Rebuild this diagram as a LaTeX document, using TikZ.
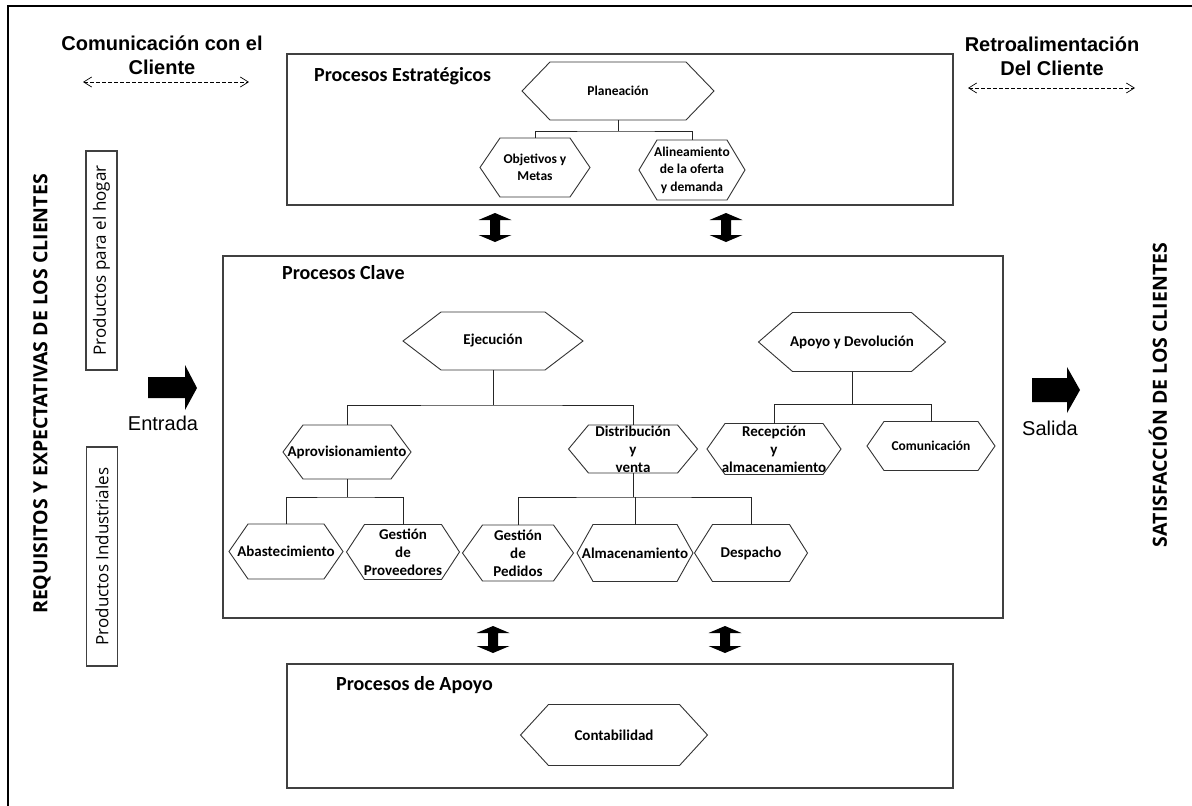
\documentclass[tikz,border=0pt]{standalone}
\usepackage{fontspec}
\usetikzlibrary{arrows.meta,calc}
\newfontfamily\calfont{Carlito}
\newfontfamily\arialfont{Liberation Sans}
\newfontfamily\opensans{Open Sans}

% hexagon drawn around a (borderless) rectangular node; #2 = horizontal inset of the corners
\newcommand\hexframe[2]{%
  \draw[hexline] (#1.west) -- ([xshift=#2pt]#1.north west) -- ([xshift=-#2pt]#1.north east)
    -- (#1.east) -- ([xshift=-#2pt]#1.south east) -- ([xshift=#2pt]#1.south west) -- cycle;}

% vertical block arrow with a head at each end
\newcommand\dblarrow[3]{%
  \begin{scope}[shift={(#1,0)}]
    \fill[black] (0,#2) -- (16.5,#2+7) -- (5,#2+7) -- (5,#3-7) -- (16.5,#3-7) -- (0,#3)
      -- (-16.5,#3-7) -- (-5,#3-7) -- (-5,#2+7) -- (-16.5,#2+7) -- cycle;
  \end{scope}}

\begin{document}
\begin{tikzpicture}[x=1pt,y=-1pt,
  boxline/.style={draw=black!75, line width=1.1pt, inner sep=0pt, outer sep=0pt},
  hexline/.style={draw=black!80, line width=0.9pt},
  conn/.style={draw=black!85, line width=0.9pt},
  hexnode/.style={inner sep=0pt, outer sep=0pt, align=center,
    font=\calfont\bfseries\fontsize{15}{18}\selectfont},
  smallhex/.style={hexnode, font=\calfont\bfseries\fontsize{13.5}{17.5}\selectfont},
  title/.style={anchor=west, inner sep=0pt, font=\calfont\bfseries\fontsize{20}{24}\selectfont},
  header/.style={align=center, inner sep=0pt, font=\arialfont\bfseries\fontsize{20}{24}\selectfont},
  flowlabel/.style={inner sep=0pt, font=\arialfont\fontsize{20}{24}\selectfont},
  sidetitle/.style={rotate=90, inner sep=0pt, font=\opensans\bfseries\fontsize{19.5}{22}\selectfont},
  prodbox/.style={boxline, rotate=90, minimum width=219pt, minimum height=31pt,
    font=\opensans\fontsize{17}{20}\selectfont},
  dasharr/.style={{Straight Barb[length=8pt,width=10pt]}-{Straight Barb[length=8pt,width=10pt]},
    dash pattern=on 4pt off 2pt, line width=0.7pt},
]
\useasboundingbox (0,0) rectangle (1192,806);
\fill[white] (0,0) rectangle (1192,806);

% outer frame
\draw[line width=2.2pt] (8,806) -- (8,6) -- (1192,6);

% customer communication headers
\node[header] (comtxt) at (162,55) {Comunicación con el\\Cliente};
\coordinate (ca) at (83,82);
\coordinate (cb) at (249,82);
\draw[dasharr] (ca) -- (cb);

\node[header] (rettxt) at (1052,56.5) {Retroalimentación\\Del Cliente};
\coordinate (ra) at (968,88);
\coordinate (rb) at (1135,88);
\draw[dasharr] (ra) -- (rb);

% side titles
\node[sidetitle] (req) at (42,394) {REQUISITOS Y EXPECTATIVAS DE LOS CLIENTES};
\node[sidetitle] (sat) at (1158,395) {SATISFACCIÓN DE LOS CLIENTES};

\node[prodbox] (hogar) at (101.5,260.5) {Productos para el hogar};
\node[prodbox] (indus) at (102,556.5) {Productos Industriales};

% input / output arrows
\fill[black] (148,377) -- (185,377) -- (185,365) -- (197,388) -- (185,410) -- (185,398) -- (148,398) -- cycle;
\node[flowlabel] (entr) at (163,423) {Entrada};
\fill[black] (1032,378) -- (1067,378) -- (1067,367) -- (1080,390) -- (1067,413) -- (1067,402) -- (1032,402) -- cycle;
\node[flowlabel] (sal) at (1050,428) {Salida};

% process areas
\node[boxline, minimum width=666pt, minimum height=151pt] (estr) at (620,129.5) {};
\node[boxline, minimum width=780pt, minimum height=362pt] (clave) at (613,437) {};
\node[boxline, minimum width=666pt, minimum height=124pt] (apoyo) at (620,726) {};

\node[title] (estrt) at (314,76) {Procesos Estratégicos};
\node[title] (clavet) at (282,273) {Procesos Clave};
\node[title] (apoyot) at (336,685) {Procesos de Apoyo};

\dblarrow{495}{213}{242}
\dblarrow{726}{213}{242}
\dblarrow{493}{626}{653}
\dblarrow{725}{626}{653}

% strategic processes
\node[smallhex, minimum width=192pt, minimum height=58pt] (plan) at (618,91) {Planeación};
\node[smallhex, minimum width=110pt, minimum height=59pt] (obj) at (535,167.5) {Objetivos y\\Metas};
\node[smallhex, minimum width=106pt, minimum height=60pt] (alin) at (692,170) {Alineamiento\\de la oferta\\y demanda};
\hexframe{plan}{28}
\hexframe{obj}{20}
\hexframe{alin}{18}

% key processes
\node[hexnode, minimum width=180pt, minimum height=58pt] (ejec) at (493,341) {Ejecución};
\node[hexnode, minimum width=187pt, minimum height=59pt] (apdev) at (852,342) {Apoyo y Devolución};
\node[hexnode, minimum width=128pt, minimum height=54pt] (aprov) at (347,452) {Aprovisionamiento};
\node[hexnode, minimum width=129pt, minimum height=48pt] (dist) at (633,449) {Distribución\\y\\venta};
\node[hexnode, minimum width=134pt, minimum height=51pt] (recep) at (774,449) {Recepción\\y\\almacenamiento};
\node[smallhex, minimum width=128pt, minimum height=49pt] (comu) at (931,446) {Comunicación};
\node[hexnode, minimum width=114pt, minimum height=55pt] (abas) at (286,551.5) {Abastecimiento};
\node[hexnode, minimum width=113pt, minimum height=55pt] (gprov) at (403,552) {Gestión\\de\\Proveedores};
\node[hexnode, minimum width=111pt, minimum height=56pt] (gped) at (518,553) {Gestión\\de\\Pedidos};
\node[hexnode, minimum width=116pt, minimum height=57pt] (alm) at (635,553) {Almacenamiento};
\node[hexnode, minimum width=113pt, minimum height=57pt] (desp) at (751,553) {Despacho};
\hexframe{ejec}{38}
\hexframe{apdev}{34}
\hexframe{aprov}{20}
\hexframe{dist}{20}
\hexframe{recep}{18}
\hexframe{comu}{17}
\hexframe{abas}{19}
\hexframe{gprov}{18}
\hexframe{gped}{20}
\hexframe{alm}{16}
\hexframe{desp}{18}

% support processes
\node[hexnode, minimum width=187pt, minimum height=61pt] (conta) at (614,735) {Contabilidad};
\hexframe{conta}{28}

% tree connectors
\coordinate (j1) at ($(plan.south)+(0,11)$);
\draw[conn] (plan.south) -- (j1);
\draw[conn] (obj.north) |- (j1) -| (alin.north);

\coordinate (j2) at ($(ejec.south)+(0,35)$);
\draw[conn] (ejec.south) -- (j2);
\draw[conn] (aprov.north) |- (j2) -| (dist.north);

\coordinate (j3) at ($(apdev.south)+(0,33)$);
\draw[conn] (apdev.south) -- (j3);
\draw[conn] (recep.north) |- (j3) -| (comu.north);

\coordinate (j4) at ($(aprov.south)+(0,18)$);
\draw[conn] (aprov.south) -- (j4);
\draw[conn] (abas.north) |- (j4) -| (gprov.north);

\coordinate (j5) at ($(dist.south)+(0,24)$);
\draw[conn] (dist.south) -- (j5);
\draw[conn] (gped.north) |- (j5) -| (desp.north);
\draw[conn] (alm.north) -- (alm.north |- j5);
\end{tikzpicture}
\end{document}
